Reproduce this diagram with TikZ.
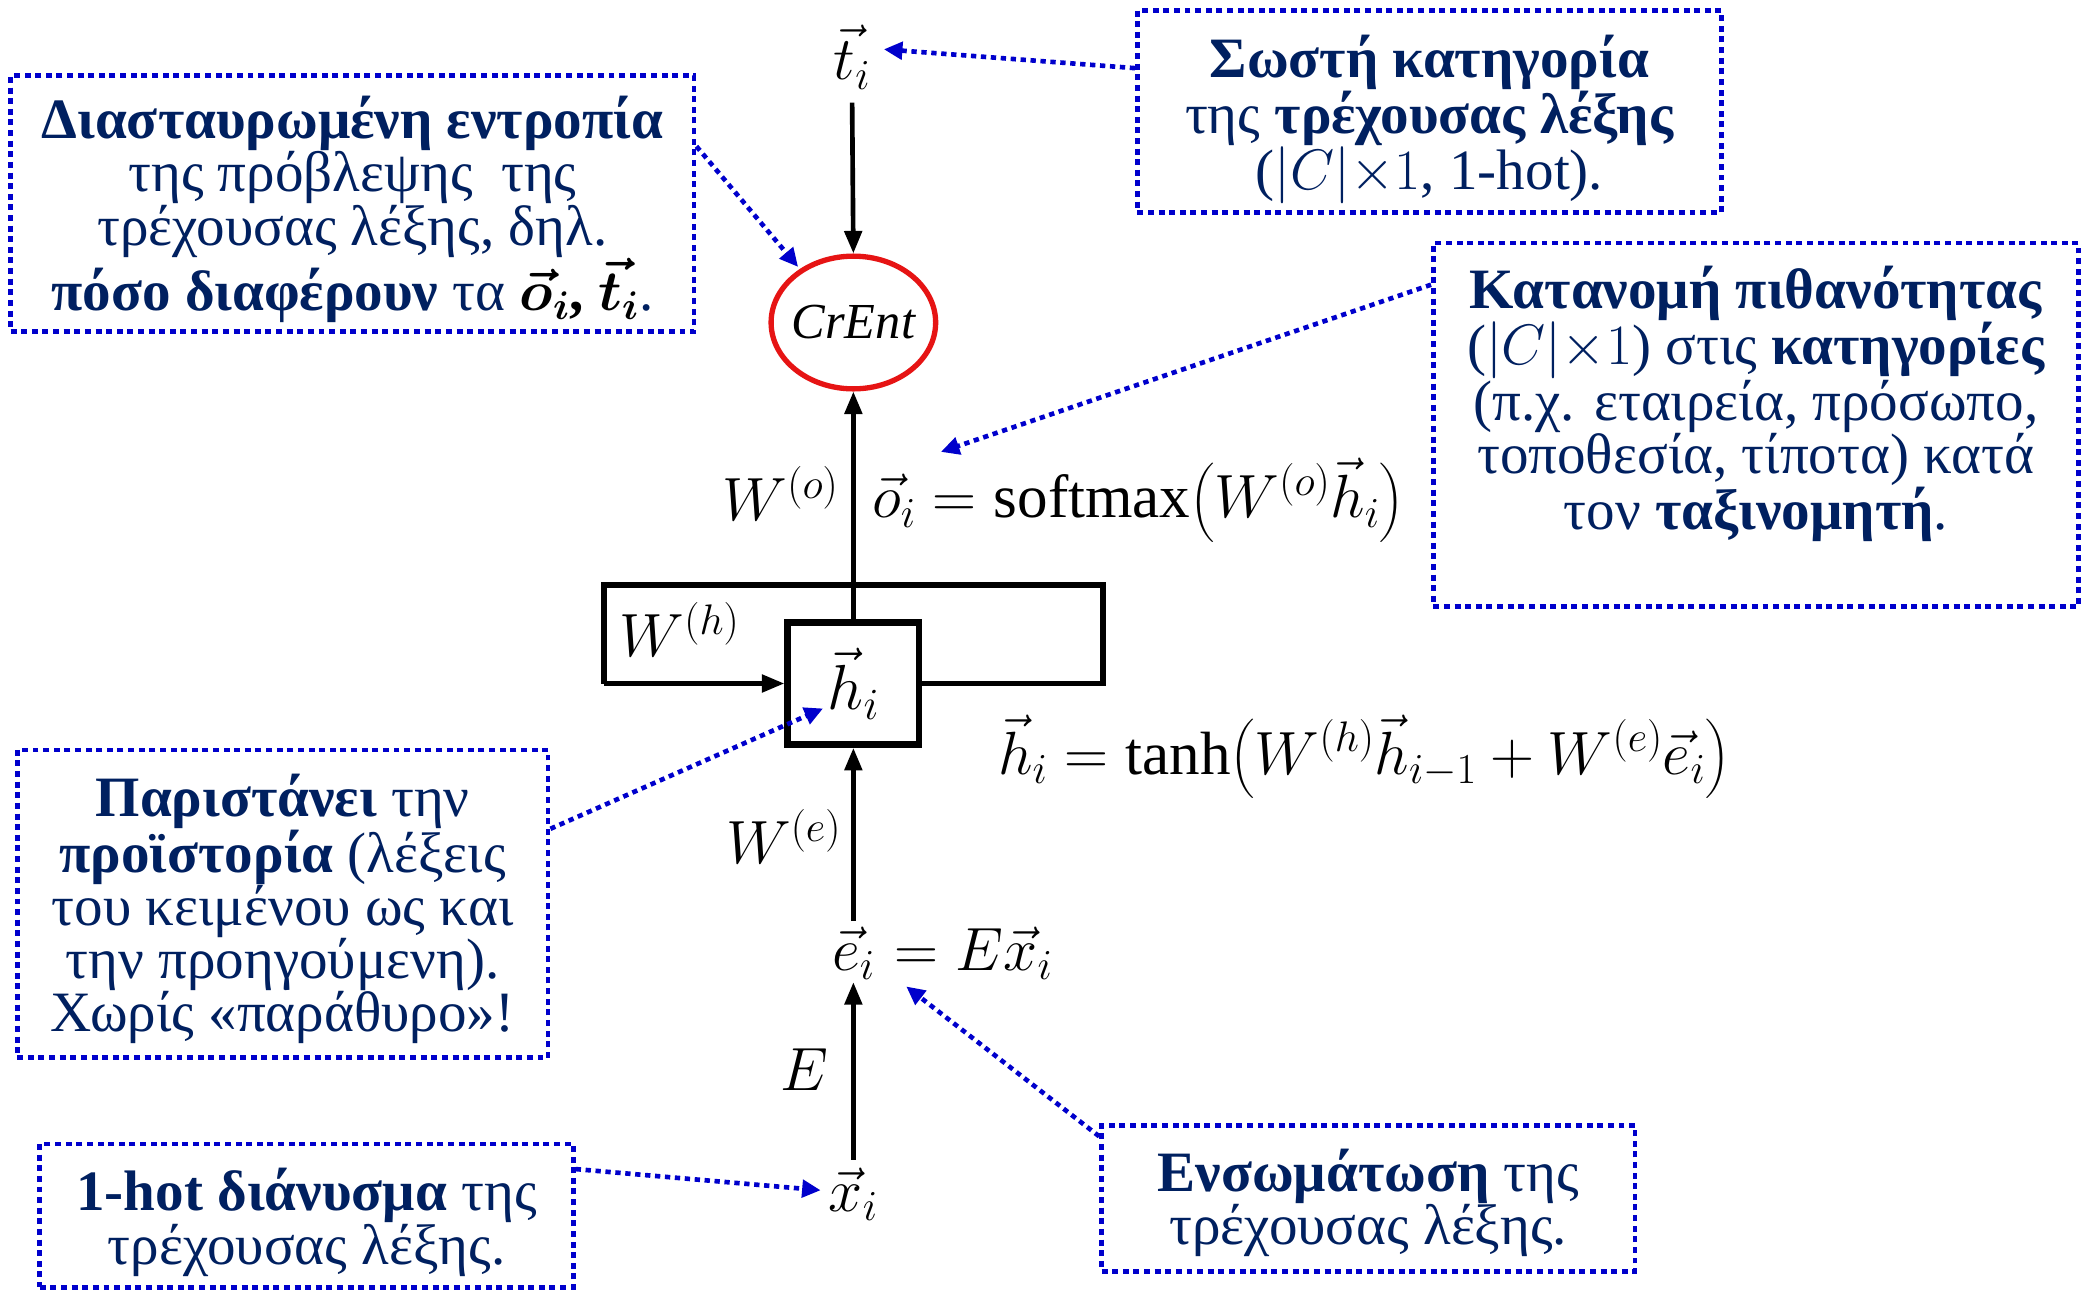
\documentclass[tikz,border=0pt]{standalone}
\usepackage{fix-cm}
\usepackage{fontspec}
\setmainfont{Liberation Serif}
\usepackage{amsmath,bm}
\usetikzlibrary{arrows.meta,shapes.geometric,calc}
\definecolor{navy}{RGB}{0,32,96}
\definecolor{dotblue}{RGB}{0,0,204}
\definecolor{crred}{RGB}{230,20,20}
\tikzset{
  annbox/.style={draw=dotblue, line width=3.5pt, dash pattern=on 4.5pt off 3.5pt, inner sep=0pt},
  anntext/.style={text=navy, align=center, font=\fontsize{43}{40}\selectfont, inner sep=0pt},
  mathlbl/.style={font=\fontsize{46}{46}\selectfont, inner sep=2pt},
  blkarrow/.style={line width=3.5pt, -{Triangle[length=17pt,width=13pt]}},
  blkline/.style={line width=4.5pt},
  dotarrow/.style={draw=dotblue, line width=3.5pt, dash pattern=on 4pt off 3.5pt, -{Triangle[length=14pt,width=13pt]}, shorten >=2pt},
}
\begin{document}
\begin{tikzpicture}[x=1pt,y=-1pt]
\useasboundingbox[fill=white] (0,0) rectangle (1568,974);

% annotation boxes
\node[annbox, minimum width=515pt, minimum height=193pt] (b1) at (265.5,153.5) {};
\node[anntext] at (265.5,158) {\textbf{Διασταυρωμένη εντροπία}\\ της πρόβλεψης\ \ της\\ τρέχουσας λέξης, δηλ.\\ \textbf{πόσο διαφέρουν} τα {\color{black}$\bm{\vec{o}_i}$\textbf{,} $\bm{\vec{t}_i}$}.};

\node[annbox, minimum width=440pt, minimum height=152pt] (b2) at (1077,84) {};
\node[anntext] at (1077,90) {\textbf{Σωστή κατηγορία}\\ της \textbf{τρέχουσας λέξης}\\ ($|C|{\times}1$, 1-hot).};

\node[annbox, minimum width=486pt, minimum height=274pt] (b3) at (1323,320) {};
\node[anntext] at (1323,304) {\textbf{Κατανομή πιθανότητας}\\ ($|C|{\times}1$) στις \textbf{κατηγορίες}\\ (π.χ. εταιρεία, πρόσωπο,\\ τοποθεσία, τίποτα) κατά\\ τον \textbf{ταξινομητή}.};

\node[annbox, minimum width=400pt, minimum height=232pt] (b4) at (213,681) {};
\node[anntext] at (213,685) {\textbf{Παριστάνει} την\\ \textbf{προϊστορία} (λέξεις\\ του κειμένου ως και\\ την προηγούμενη).\\ Χωρίς «παράθυρο»!};

\node[annbox, minimum width=402pt, minimum height=108pt] (b5) at (231,916) {};
\node[anntext, font=\fontsize{43}{36}\selectfont] at (231,921) {\textbf{1-hot διάνυσμα} της\\ τρέχουσας λέξης.};

\node[annbox, minimum width=402pt, minimum height=110pt] (b6) at (1031,903) {};
\node[anntext] at (1031,906) {\textbf{Ενσωμάτωση} της\\ τρέχουσας λέξης.};

% main column
\node[mathlbl] (t) at (642,43) {$\vec{t}_i$};
\node[draw=crred, line width=4pt, ellipse, minimum width=124pt, minimum height=100pt, inner sep=0pt,
      label={[font=\fontsize{38}{40}\selectfont]center:$\mathit{CrEnt}$}] (cr) at (643,243) {};
\node[draw, line width=5pt, minimum width=99pt, minimum height=92pt, inner sep=0pt, font=\fontsize{48}{48}\selectfont] (h) at (643,515) {$\vec{h}_i$};
\node[mathlbl] (e) at (643,718) {$\vec{e}_i$};
\node[mathlbl, anchor=base west, inner sep=0pt] (eeq) at (e.base east) {${}=E\vec{x}_i$};
\node[mathlbl] (x) at (643,900) {$\vec{x}_i$};

\node[mathlbl, anchor=west] (oeq) at (655,377) {$\vec{o}_i = \mathrm{softmax}\bigl(W^{(o)}\vec{h}_i\bigr)$};
\node[mathlbl, anchor=east] (wo) at (634,372) {$W^{(o)}$};
\node[mathlbl] (wh) at (512,474) {$W^{(h)}$};
\node[mathlbl, anchor=east] (we) at (636,630) {$W^{(e)}$};
\node[mathlbl] (E) at (606,806) {$E$};
\node[mathlbl, anchor=west] (heq) at (750,570) {$\vec{h}_i = \tanh\bigl(W^{(h)}\vec{h}_{i-1} + W^{(e)}\vec{e}_i\bigr)$};

% black connectors
\draw[blkarrow, shorten <=8pt] (t.south) -- (cr.north);
\draw[blkarrow] (h.north) -- (cr.south);
\draw[blkarrow, shorten <=2pt] (e.north) -- (h.south);
\draw[blkarrow, shorten <=4pt] (x.north) -- (e.south);
\coordinate (l1) at (831,515);
\coordinate (l2) at (831,441);
\coordinate (l3) at (455,441);
\coordinate (l4) at (455,515);
\draw[blkline] (h.east) -- (l1) -- (l2) -- (l3) -- (l4);
\draw[blkarrow] (l4) -- (h.west);

% blue dotted pointers
\draw[dotarrow] ($(b1.north east)!0.28!(b1.south east)$) -- (cr.135);
\draw[dotarrow] ($(b2.north west)!0.29!(b2.south west)$) -- ($(t.east)+(6,-6)$);
\draw[dotarrow] ($(b3.north west)!0.12!(b3.south west)$) -- ($(oeq.north west)+(52,-2)$);
\draw[dotarrow] ($(b4.north east)!0.26!(b4.south east)$) -- ($(h.center)+(-21,18)$);
\draw[dotarrow] ($(b5.north east)!0.185!(b5.south east)$) -- ($(x.west)+(-2,-3)$);
\draw[dotarrow] ($(b6.north west)+(0,10)$) -- ($(e.south east)+(20,2)$);
\end{tikzpicture}
\end{document}
